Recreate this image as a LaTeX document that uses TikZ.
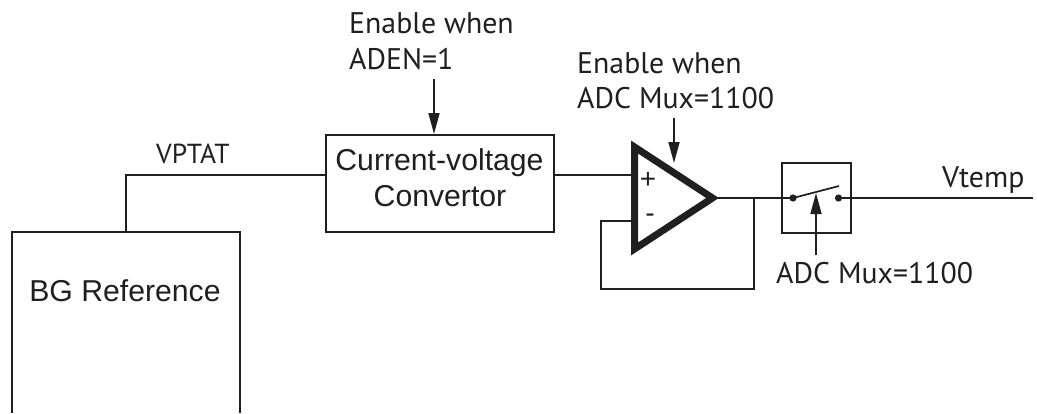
\documentclass[tikz,border=0pt]{standalone}
\usepackage{fontspec}
\setmainfont{Liberation Sans}
\newfontfamily\lblfont{PT Sans}
\usetikzlibrary{arrows.meta}
\tikzset{
  wire/.style={line width=1.7pt,color=black!88},
  arrowwire/.style={line width=1.7pt,color=black!88,-{Stealth[length=21pt,width=11pt,inset=0pt]}},
  boxed/.style={draw=black!88,line width=1.7pt,inner sep=0pt,text=black!88},
  boxtext/.style={inner sep=0pt,text=black!88,font=\fontsize{30.2}{36}\selectfont,anchor=base},
  lbl/.style={inner sep=0pt,text=black!88,font=\lblfont\fontsize{29.8}{31}\selectfont,anchor=base west},
}
\begin{document}
\begin{tikzpicture}[x=1pt,y=-1pt]
\useasboundingbox (0,0) rectangle (1037,413);
\coordinate (bgbl) at (12,413);
\coordinate (bgtl) at (12,232);
\coordinate (bgtr) at (240,232);
\coordinate (bgbr) at (240,413);
\draw[wire] (bgbl) -- (bgtl) -- (bgtr) -- (bgbr);
\node[inner sep=0pt,text=black!88,font=\fontsize{30.2}{36}\selectfont] (bgtext) at (125,291) {BG Reference};
\node[boxed,minimum width=228,minimum height=97] (conv) at (440,183.5) {};
\node[boxtext] (cv1) at (439.5,170) {Current-voltage};
\node[boxtext] (cv2) at (440,206) {Convertor};
\coordinate (bgout) at (126,232);
\coordinate (bgcorner) at (126,175);
\coordinate (convw) at (326,175);
\draw[wire] (bgout) -- (bgcorner) -- (convw);
\node[lbl,font=\lblfont\fontsize{27.5}{31}\selectfont] (vptat) at (156,163) {VPTAT};
\node[lbl] (en1) at (349,33) {Enable when};
\node[lbl] (en2) at (349,69) {ADEN=1};
\coordinate (en2b) at (434,79);
\coordinate (convt) at (434,134);
\draw[arrowwire] (en2b) -- (convt);
\coordinate (oa) at (634.5,147);
\coordinate (ob) at (634.5,249);
\coordinate (oc) at (712.5,198);
\draw[line width=7pt,color=black!88,line join=miter] (oa) -- (ob) -- (oc) -- cycle;
\node[inner sep=0pt,text=black!88,font=\fontsize{28}{31}\selectfont] (plus) at (648,180) {+};
\node[inner sep=0pt,text=black!88,font=\fontsize{28}{31}\selectfont] (minus) at (650,218) {-};
\coordinate (oin) at (632,175);
\coordinate (convo) at (554,175);
\draw[wire] (convo) -- (oin);
\node[lbl] (en3) at (577,73) {Enable when};
\node[lbl] (en4) at (577,108) {ADC Mux=1100};
\coordinate (a3s) at (674,118);
\coordinate (a3e) at (674,163);
\draw[arrowwire] (a3s) -- (a3e);
\coordinate (swtl) at (782,163);
\coordinate (swbr) at (851,233);
\draw[wire] (swtl) rectangle (swbr);
\coordinate (oout) at (716,198);
\coordinate (fb1) at (754,198);
\coordinate (fb2) at (754,289);
\coordinate (fb3) at (601,289);
\coordinate (fb4) at (601,221);
\coordinate (fb5) at (632,221);
\coordinate (s1) at (793,198);
\coordinate (s2) at (838.5,198);
\draw[wire] (oout) -- (s1);
\draw[wire] (fb1) -- (fb2) -- (fb3) -- (fb4) -- (fb5);
\fill[black!88] (s1) circle (3.6);
\fill[black!88] (s2) circle (3.6);
\draw[wire] (s1) -- (839,186);
\coordinate (vend) at (1033,198);
\draw[wire] (s2) -- (vend);
\node[lbl] (vt) at (942,187) {Vtemp};
\coordinate (sa) at (816,255);
\coordinate (sb) at (816,193);
\draw[arrowwire] (sa) -- (sb);
\node[lbl] (mux) at (776,283) {ADC Mux=1100};
\end{tikzpicture}
\end{document}
